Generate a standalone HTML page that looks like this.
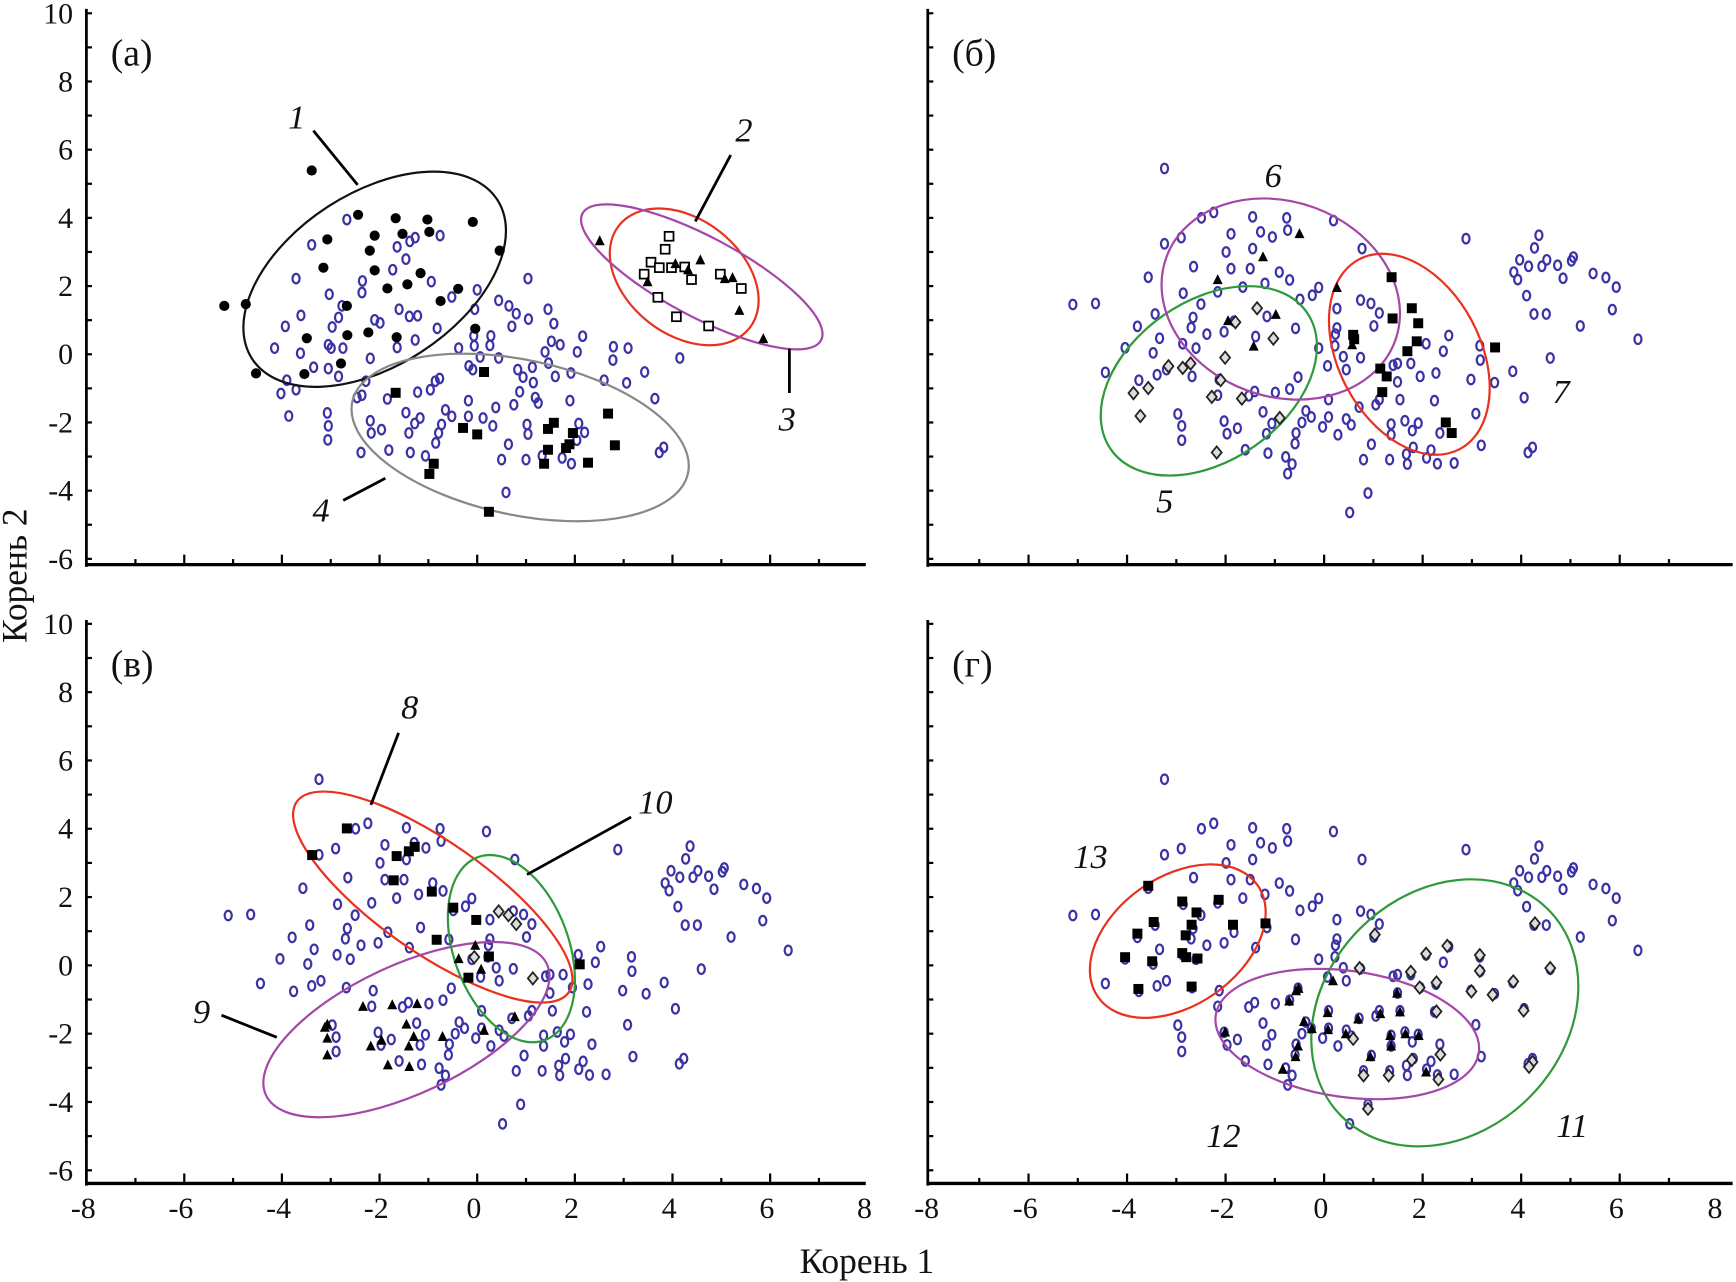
<!DOCTYPE html>
<html><head><meta charset="utf-8">
<style>
html,body{margin:0;padding:0;background:#fff;}
svg{display:block;}
text{font-family:"Liberation Serif","DejaVu Serif",serif;fill:#111;}
</style></head>
<body>
<svg id="chart" width="1736" height="1282" viewBox="0 0 1568 1158" xmlns="http://www.w3.org/2000/svg"></svg>
<script>
// ---------- DATA ----------
const xTicks = [-8,-6,-4,-2,0,2,4,6,8];
const yTicks = [10,8,6,4,2,0,-2,-4,-6];
const panelLabels = ["(а)","(б)","(в)","(г)"];

// panel (а) background points
const bgAX = [-2.67,-3.39,-1.64,-1.38,-1.27,-0.76,-1.46,-3.71,-2.35,-1.73,-0.94,1.04,-3.03,-2.36,-0.52,0,-3.61,-2.77,-2.84,-2.10,-1.99,-1.60,-1.39,-1.22,-0.05,0.44,0.65,0.80,1.05,1.45,-3.93,-2.97,-0.82,0.71,1.57,-4.15,-3.62,-3.05,-2.99,-2.75,-2.19,-1.64,-1.27,-0.38,-0.06,-0.07,0.28,0.26,0.44,0.06,1.52,1.70,2.16,1.39,2.05,2.79,3.09,2.78,4.15,-3.35,-3.05,-2.84,-3.90,-4.02,-3.71,-2.28,-0.17,-0.09,0.83,1.13,0.94,1.15,1.60,1.92,1.46,2.60,3.06,3.43,-0.77,-0.86,-0.96,-1.22,-1.84,-2.36,-2.46,0.87,0.75,1.19,1.25,1.90,3.64,-0.18,0.38,-0.65,-0.52,-0.18,0.12,-1.46,-1.17,-3.07,-3.86,-3.05,-3.06,-2.19,-1.96,-2.17,-1.28,-1.40,-0.73,-0.79,-0.85,0.32,1.02,1.04,2.08,2.20,2.04,0.64,-1.81,-1.37,-2.38,-1.06,0.50,1.00,1.33,1.74,1.93,3.82,3.73,0.59];
const bgAY = [3.95,3.21,3.15,3.31,3.42,3.48,2.79,2.22,2.15,2.48,2.13,2.22,1.76,1.81,1.68,1.89,1.14,1.42,1.08,1.01,0.92,1.32,1.11,1.13,1.32,1.58,1.42,1.19,1.03,1.32,0.82,0.80,0.76,0.82,0.90,0.18,0.03,0.28,0.18,0.18,-0.12,0.20,0.42,0.18,0.25,0.54,0.54,0.26,-0.11,-0.08,0.38,0.28,0.53,0.07,0.07,0.22,0.18,-0.17,-0.11,-0.38,-0.42,-0.65,-0.76,-1.15,-1.04,-0.79,-0.34,-0.45,-0.45,-0.38,-0.67,-0.83,-0.65,-0.55,-0.26,-0.76,-0.84,-0.52,-0.71,-0.79,-1.04,-1.11,-1.31,-1.20,-1.27,-1.10,-1.48,-1.27,-1.43,-1.36,-1.30,-1.36,-1.56,-1.63,-1.82,-1.82,-1.87,-1.71,-1.87,-1.72,-1.81,-2.10,-2.51,-1.95,-2.21,-2.31,-2.03,-2.31,-2.06,-2.31,-2.60,-2.10,-2.06,-2.34,-2.03,-2.29,-2.52,-2.64,-2.81,-2.88,-2.88,-2.98,-3.09,-3.09,-2.98,-3.04,-3.21,-2.73,-2.88,-4.05];

// shared background points for panels (б),(в),(г)
const bgX = [-3.24,-2.49,-2.24,-1.45,-0.76,0.19,-1.89,-1.29,-1.05,-0.74,-2.90,-3.24,-1.99,-1.45,0.77,-2.65,-1.89,-1.50,-0.91,-0.70,-1.20,-3.57,-2.16,-2.86,-1.65,-0.24,-0.11,-0.49,-5.10,-4.64,-3.43,-2.66,-2.50,-1.16,0.26,0.74,0.95,1.12,1.01,-3.79,-2.70,-2.38,-1.83,-2.03,-0.58,0.26,0.23,-3.34,-1.39,-4.04,-3.47,-2.87,-2.60,-0.11,0.22,0.39,0.74,2.53,2.07,3.16,3.17,2.42,1.49,1.76,-4.44,-3.39,-3.20,-2.68,0.07,0.45,1.40,1.49,1.95,2.27,2.98,3.46,3.83,-3.76,-2.13,-0.53,-0.70,-0.99,-1.41,-1.53,-2.16,0.09,1.05,1.12,1.54,2.24,4.06,-1.24,-0.37,-0.26,0.09,0.71,0.45,-2.97,-2.89,-2.89,-2.03,-1.76,-1.97,-1.06,-1.17,-0.57,-0.59,-0.45,-0.03,0.28,0.55,1.36,1.64,1.91,1.36,1.79,2.35,3.08,-1.60,-1.14,-0.78,-0.65,-0.74,0.96,0.80,1.33,1.67,1.69,2.08,2.30,2.64,1.81,2.17,3.19,4.23,4.14,0.89,0.52,2.88,4.36,4.27,3.97,4.15,4.42,4.52,4.74,5.02,5.06,4.85,3.85,3.93,5.46,5.72,5.93,4.11,4.26,4.51,5.85,5.20,4.59,6.37];
const bgY = [5.45,4.00,4.16,4.03,4.00,3.92,3.53,3.59,3.44,3.64,3.42,3.24,3.00,3.10,3.10,2.57,2.51,2.51,2.41,2.18,2.08,2.26,1.83,1.79,1.97,1.73,1.96,1.61,1.46,1.49,1.18,1.08,1.47,1.11,1.34,1.59,1.49,1.21,0.83,0.82,0.78,0.59,0.97,0.66,0.76,0.77,0.59,0.47,0.52,0.19,0.04,0.31,0.18,0.18,0.25,-0.07,-0.10,0.55,0.31,0.25,-0.17,0.09,-0.27,-0.27,-0.53,-0.60,-0.45,-0.65,-0.34,-0.45,-0.32,-0.81,-0.65,-0.55,-0.74,-0.83,-0.50,-0.76,-0.74,-0.67,-1.02,-1.12,-1.09,-1.22,-1.20,-1.33,-1.48,-1.33,-1.33,-1.36,-1.27,-1.69,-1.66,-1.84,-1.84,-1.55,-1.90,-1.75,-2.10,-2.52,-1.96,-2.17,-2.33,-2.03,-2.33,-2.31,-2.62,-2.00,-2.13,-2.36,-2.07,-2.05,-1.95,-2.02,-2.36,-2.24,-2.31,-1.74,-2.80,-2.90,-3.01,-3.22,-3.50,-2.64,-3.09,-3.09,-2.93,-3.22,-3.04,-3.21,-3.19,-2.73,-2.81,-2.67,-2.73,-2.88,-4.07,-4.64,3.39,3.49,3.12,2.77,2.58,2.58,2.77,2.61,2.74,2.85,2.23,2.41,2.19,2.37,2.25,1.97,1.72,1.18,1.18,1.31,0.83,-0.11,0.44];

// panel (а) groups
const g1X = [-3.39,-5.18,-4.74,-4.53,-2.44,-1.67,-1.02,-0.09,-3.07,-2.10,-1.53,-0.98,-2.20,0.46,-3.15,-2.10,-1.16,-1.43,-1.84,-0.39,-0.75,-2.67,-3.49,-2.66,-2.23,-1.65,-0.04,-2.79,-3.54];
const g1Y = [5.39,1.42,1.47,-0.56,4.09,3.99,3.95,3.88,3.37,3.48,3.53,3.59,3.04,3.04,2.54,2.46,2.38,2.05,1.93,1.92,1.56,1.42,0.47,0.56,0.64,0.50,0.75,-0.27,-0.58];
const g2X = [3.93,3.85,3.56,3.73,3.98,4.25,4.39,3.42,4.98,5.41,3.70,4.08,4.74];
const g2Y = [3.46,3.08,2.70,2.54,2.54,2.56,2.19,2.35,2.35,1.93,1.67,1.10,0.83];
const g3X = [2.51,3.49,4.06,4.32,4.57,5.07,5.23,5.37,5.86];
const g3Y = [3.31,2.11,2.64,2.46,2.75,2.20,2.23,1.27,0.44];
const g4X = [0.14,-1.67,-0.29,0,1.57,1.45,1.96,1.89,1.45,1.82,2.68,2.82,1.37,2.27,-0.89,-0.98,0.24];
const g4Y = [-0.52,-1.13,-2.16,-2.35,-2.01,-2.19,-2.31,-2.64,-2.80,-2.75,-1.74,-2.67,-3.21,-3.18,-3.21,-3.51,-4.62];
// panel (б)
const g5X = [-1.36,-1.80,-1.03,-2.01,-3.16,-2.87,-2.71,-2.10,-3.57,-3.87,-2.28,-1.67,-3.73,-0.90,-2.18];
const g5Y = [1.35,0.94,0.46,-0.10,-0.35,-0.40,-0.27,-0.76,-0.99,-1.14,-1.25,-1.30,-1.81,-1.87,-2.88];
const g6X = [-0.50,-1.24,-2.16,0.26,-0.98,-1.43,0.57,-1.95];
const g6Y = [3.52,2.84,2.17,1.94,1.15,0.22,0.26,0.97];
const g7X = [1.37,1.78,1.39,1.91,0.59,0.61,1.88,1.69,3.47,1.14,1.27,1.18,2.47,2.59];
const g7Y = [2.26,1.35,1.05,0.91,0.57,0.44,0.38,0.09,0.20,-0.42,-0.65,-1.11,-2.00,-2.31];
// panel (в)
const g8X = [-2.67,-3.38,-1.65,-1.40,-1.28,-1.71,-0.93,-0.49,-0.02,-0.83,0.24,-0.18,2.10];
const g8Y = [4.01,3.23,3.20,3.34,3.47,2.49,2.16,1.69,1.33,0.75,0.26,-0.36,0.03];
const g9X = [-0.04,-0.38,0.08,-2.34,-1.74,-1.23,-1.45,-3.07,-3.12,-3.07,-3.07,-1.96,-2.18,-1.30,-1.40,-0.71,0.14,0.77,-1.83,-1.39];
const g9Y = [0.57,0.18,-0.13,-1.22,-1.17,-1.14,-1.74,-1.74,-1.83,-2.15,-2.64,-2.21,-2.38,-2.10,-2.38,-2.10,-1.92,-1.52,-2.93,-2.98];
const g10X = [0.44,0.64,0.80,-0.06,1.14];
const g10Y = [1.58,1.47,1.21,0.24,-0.38];
// panel (г)
const g11X = [1.03,4.28,2.50,2.07,3.16,0.72,1.76,3.16,4.59,2.28,1.94,2.99,3.42,3.84,2.28,4.05,0.59,1.78,2.36,4.23,4.16,0.80,1.31,2.32,0.89];
const g11Y = [0.90,1.23,0.57,0.34,0.30,-0.08,-0.19,-0.16,-0.08,-0.50,-0.65,-0.76,-0.86,-0.47,-1.35,-1.32,-2.15,-2.77,-2.61,-2.83,-2.97,-3.22,-3.22,-3.34,-4.20];
const g12X = [-0.57,-0.52,-0.71,0.18,1.48,-0.41,-0.25,0.07,0.08,0.69,1.14,1.54,0.44,1.34,1.65,1.92,1.36,-2.01,-0.53,-0.58,-0.84,0.94,2.07];
const g12Y = [-0.76,-0.69,-1.06,-0.47,-0.83,-1.66,-1.87,-1.40,-1.90,-1.59,-1.43,-1.38,-2.02,-2.07,-2.02,-2.07,-2.38,-1.97,-2.38,-2.69,-3.06,-2.69,-3.14];
const g13X = [-3.57,-2.88,-2.14,-2.59,-3.46,-2.69,-1.85,-1.19,-3.79,-2.81,-2.88,-2.80,-2.57,-4.04,-3.49,-3.77,-2.69];
const g13Y = [2.33,1.87,1.92,1.55,1.27,1.19,1.19,1.23,0.93,0.88,0.36,0.24,0.20,0.24,0.12,-0.69,-0.62];

// ellipse centres (data units)
const ellCX = [-2.1,4.24,4.60,0.88,-2.34,-0.88,1.73,-0.91,-1.45,0.70,2.45,0.47,-2.97];
const ellCY = [2.2,2.27,2.27,-2.44,-0.78,1.62,0.0,2.0,-1.88,0.49,-1.39,-2.01,0.71];

// ---------- RENDER ----------
const NS = "http://www.w3.org/2000/svg";
const svg = document.getElementById("chart");
function mk(tag, attrs, parent){
  const e = document.createElementNS(NS, tag);
  for (const k in attrs) e.setAttribute(k, attrs[k]);
  (parent||svg).appendChild(e);
  return e;
}
const panels = [
  {x0:431, sx:44.1, y0:320, sy:30.8, left:78, right:782, top:8, bottom:510},
  {x0:1196, sx:44.5, y0:320, sy:30.8, left:838, right:1565, top:8, bottom:510},
  {x0:431, sx:44.1, y0:872, sy:30.85, left:78, right:782, top:560, bottom:1069},
  {x0:1196, sx:44.5, y0:872, sy:30.85, left:838, right:1565, top:560, bottom:1069}
];
function X(p,v){return p.x0 + p.sx*v;}
function Y(p,v){return p.y0 - p.sy*v;}

panels.forEach((p,i)=>{
  const g = mk("g",{});
  
  
  const ya = mk("line",{x1:p.left,y1:p.top,x2:p.left,y2:p.bottom+2,stroke:"#000","stroke-width":2.5},g);
  
  
  const xa = mk("line",{x1:p.left,y1:p.bottom,x2:p.right,y2:p.bottom,stroke:"#000","stroke-width":3},g);
  
  
  for (let v=-6; v<=10; v++){
    const t = mk("line",{x1:p.left,y1:Y(p,v),x2:p.left+5,y2:Y(p,v),stroke:"#000","stroke-width":2},g);
    
    
  }
  for (let v=-7; v<=7; v++){
    const len = (v%2===0)?9:5;
    const t = mk("line",{x1:X(p,v),y1:p.bottom,x2:X(p,v),y2:p.bottom-len,stroke:"#000","stroke-width":2},g);
    
    
  }
  if (i===0 || i===2){
    yTicks.forEach(v=>{
      const t = mk("text",{x:66,y:Y(p,v)+9,"text-anchor":"end","font-size":27},g);
      t.textContent = v;
      
      
    });
  }
  if (i>=2){
    xTicks.forEach(v=>{
      const t = mk("text",{x:X(p,v)-3,y:1100,"text-anchor":"middle","font-size":27},g);
      t.textContent = v;
      
      
    });
  }
  const lb = mk("text",{x:p.left+22,y:p.top+51,"font-size":34},g);
  lb.textContent = panelLabels[i];
  
  
});

function drawPts(pi, xs, ys, kind, name){
  const p = panels[pi];
  for (let k=0;k<xs.length;k++){
    const cx = X(p,xs[k]), cy = Y(p,ys[k]);
    let e;
    if (kind==="bg") e = mk("ellipse",{cx:cx,cy:cy,rx:3.2,ry:4.3,fill:"none",stroke:"#3a32a6","stroke-width":2});
    else if (kind==="dot") e = mk("circle",{cx:cx,cy:cy,r:4.6,fill:"#000"});
    else if (kind==="sq") e = mk("rect",{x:cx-4.5,y:cy-4.5,width:9,height:9,fill:"#000"});
    else if (kind==="osq") e = mk("rect",{x:cx-4,y:cy-4,width:8,height:8,fill:"#fff",stroke:"#000","stroke-width":1.6});
    else if (kind==="tri") e = mk("polygon",{points:`${cx},${cy-5.5} ${cx-4.5},${cy+3.5} ${cx+4.5},${cy+3.5}`,fill:"#000"});
    else e = mk("polygon",{points:`${cx},${cy-5.5} ${cx+4.5},${cy} ${cx},${cy+5.5} ${cx-4.5},${cy}`,fill:"#ddd",stroke:"#222","stroke-width":1.6});
    
    
  }
}
drawPts(0,bgAX,bgAY,"bg","background-point");
[1,2,3].forEach(i=>drawPts(i,bgX,bgY,"bg","background-point"));

const ellStyle = [
  {p:0,rx:132,ry:78,rot:-33,c:"#111"},
  {p:0,rx:75,ry:52,rot:38,c:"#e8321e"},
  {p:0,rx:122,ry:36,rot:28,c:"#a447a8"},
  {p:0,rx:155,ry:70,rot:12,c:"#888"},
  {p:1,rx:108,ry:72,rot:-35,c:"#2f9a3a"},
  {p:1,rx:110,ry:88,rot:20,c:"#a447a8"},
  {p:1,rx:97,ry:64,rot:62,c:"#e8321e"},
  {p:2,rx:150,ry:50,rot:35,c:"#e8321e"},
  {p:2,rx:140,ry:58,rot:-25,c:"#a447a8"},
  {p:2,rx:88,ry:52,rot:70,c:"#2f9a3a"},
  {p:3,rx:132,ry:108,rot:-45,c:"#2f9a3a"},
  {p:3,rx:120,ry:57,rot:8,c:"#a447a8"},
  {p:3,rx:88,ry:58,rot:-35,c:"#e8321e"}
];
ellStyle.forEach((s,k)=>{
  const p = panels[s.p];
  const cx = X(p,ellCX[k]), cy = Y(p,ellCY[k]);
  const e = mk("ellipse",{cx:cx,cy:cy,rx:s.rx,ry:s.ry,transform:`rotate(${s.rot} ${cx} ${cy})`,fill:"none",stroke:s.c,"stroke-width":2});
  
  
});

drawPts(0,g1X,g1Y,"dot","group-1-point");
drawPts(0,g2X,g2Y,"osq","group-2-point");
drawPts(0,g3X,g3Y,"tri","group-3-point");
drawPts(0,g4X,g4Y,"sq","group-4-point");
drawPts(1,g5X,g5Y,"dia","group-5-point");
drawPts(1,g6X,g6Y,"tri","group-6-point");
drawPts(1,g7X,g7Y,"sq","group-7-point");
drawPts(2,g8X,g8Y,"sq","group-8-point");
drawPts(2,g9X,g9Y,"tri","group-9-point");
drawPts(2,g10X,g10Y,"dia","group-10-point");
drawPts(3,g11X,g11Y,"dia","group-11-point");
drawPts(3,g12X,g12Y,"tri","group-12-point");
drawPts(3,g13X,g13Y,"sq","group-13-point");

// callouts
const callouts = [
  ["1",268,116,[283,118,323,167]],
  ["2",672,128,[660,140,628,200]],
  ["3",711,389,[713,355,713,315]],
  ["4",290,471,[310,452,348,432]],
  ["6",1150,169,null],
  ["5",1052,463,null],
  ["7",1410,364,null],
  ["8",370,649,[360,662,335,727]],
  ["10",592,735,[570,738,476,790]],
  ["9",182,924,[200,917,250,937]],
  ["13",985,784,null],
  ["12",1105,1036,null],
  ["11",1420,1027,null]
];
callouts.forEach(c=>{
  const t = mk("text",{x:c[1],y:c[2],"text-anchor":"middle","font-size":31,"font-style":"italic"});
  t.textContent = c[0];
  
  
  if (c[3]){
    const l = mk("line",{x1:c[3][0],y1:c[3][1],x2:c[3][2],y2:c[3][3],stroke:"#000","stroke-width":2.5});
    
    
  }
});

const xt = mk("text",{x:783,y:1150,"text-anchor":"middle","font-size":32});
xt.textContent = "Корень 1";


const yt = mk("text",{x:0,y:0,"text-anchor":"middle","font-size":32,transform:"translate(24,520) rotate(-90)"});
yt.textContent = "Корень 2";


</script>
</body></html>
